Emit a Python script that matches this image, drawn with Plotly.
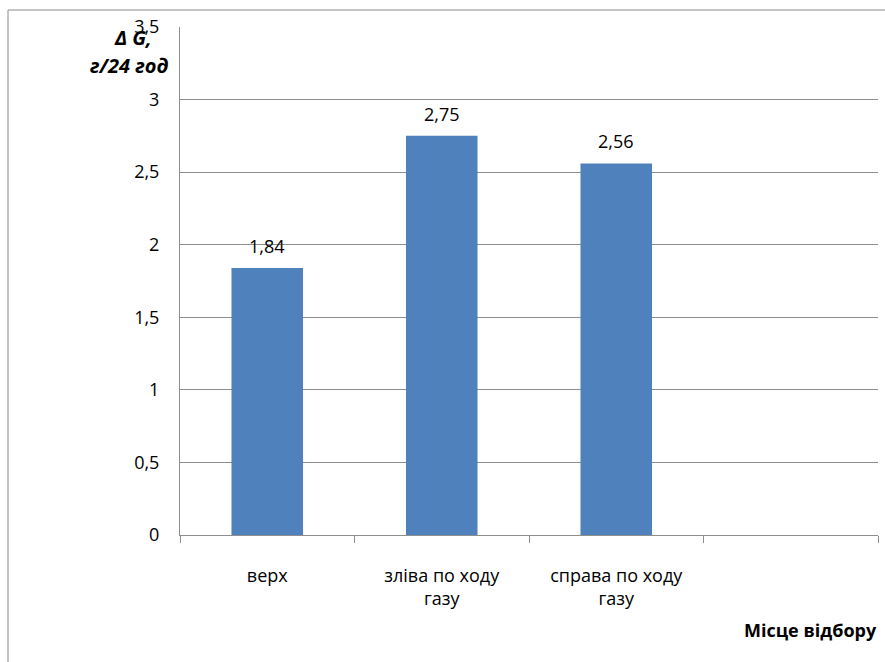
import plotly.graph_objects as go

# Sampling locations and measured mass change
categories = ["верх", "зліва по ходу<br>газу", "справа по ходу<br>газу", " "]
values = [1.84, 2.75, 2.56]
y_ticks = [0, 0.5, 1, 1.5, 2, 2.5, 3, 3.5]

FONT = "Open Sans"
FS = 18
BAR_COLOR = "#4F81BD"
GRID = "#8e8e8e"

W, H = 885, 662
L, R, T, B = 180, 7, 27, 127

fig = go.Figure()
fig.add_trace(go.Bar(
    x=categories[:len(values)],
    y=values,
    marker=dict(color=BAR_COLOR, line=dict(width=0)),
    hoverinfo="skip",
))

# value labels above each bar
for c, v in zip(categories, values):
    fig.add_annotation(
        x=c, y=v, text=f"{v:.2f}".replace(".", ","),
        showarrow=False, yanchor="bottom", yshift=8,
        font=dict(family=FONT, size=FS, color="#000"),
    )

fig.update_layout(
    width=W, height=H,
    margin=dict(l=L, r=R, t=T, b=B),
    paper_bgcolor="white", plot_bgcolor="white",
    separators=", ",
    showlegend=False,
    bargap=0.59,
    font=dict(family=FONT, size=FS, color="#000"),
)

fig.update_xaxes(
    type="category",
    categoryorder="array", categoryarray=categories,
    range=[-0.5, len(categories) - 0.5],
    tickson="boundaries",
    ticks="outside", ticklen=7, tickcolor=GRID,
    showline=True, linecolor=GRID, linewidth=1,
    showgrid=False,
    ticklabelstandoff=24,
    tickfont=dict(family=FONT, size=FS),
)

fig.update_yaxes(
    range=[0, 3.5],
    tickvals=y_ticks,
    ticks="", showline=True, linecolor=GRID, linewidth=1,
    showgrid=True, gridcolor=GRID, gridwidth=1,
    zeroline=False,
    ticklabelstandoff=16,
    tickfont=dict(family=FONT, size=FS),
)

pw = W - L - R
ph = H - T - B


def px_x(x):
    return (x - L) / pw


def px_y(y):
    return (H - B - y) / ph


# y axis title, two lines
for line, cx, cy in [("Δ G,", 133, 38), ("г/24 год", 129, 66)]:
    fig.add_annotation(
        xref="paper", yref="paper", x=px_x(cx), y=px_y(cy),
        text=f"<b><i>{line}</i></b>",
        showarrow=False, xanchor="center", yanchor="middle",
        font=dict(family=FONT, size=20, color="#000"),
    )

# x axis title
fig.add_annotation(
    xref="paper", yref="paper",
    x=px_x(879), y=px_y(630),
    text="<b>Місце відбору</b>",
    showarrow=False, xanchor="right", yanchor="middle",
    font=dict(family=FONT, size=FS, color="#000"),
)

# chart area border
fig.add_shape(
    type="rect", xref="paper", yref="paper",
    x0=px_x(8), x1=px_x(W + 5),
    y0=px_y(H + 5), y1=px_y(10),
    line=dict(color="#8a8a8a", width=1), fillcolor="rgba(0,0,0,0)",
    layer="below",
)

fig.write_html("out.html")
